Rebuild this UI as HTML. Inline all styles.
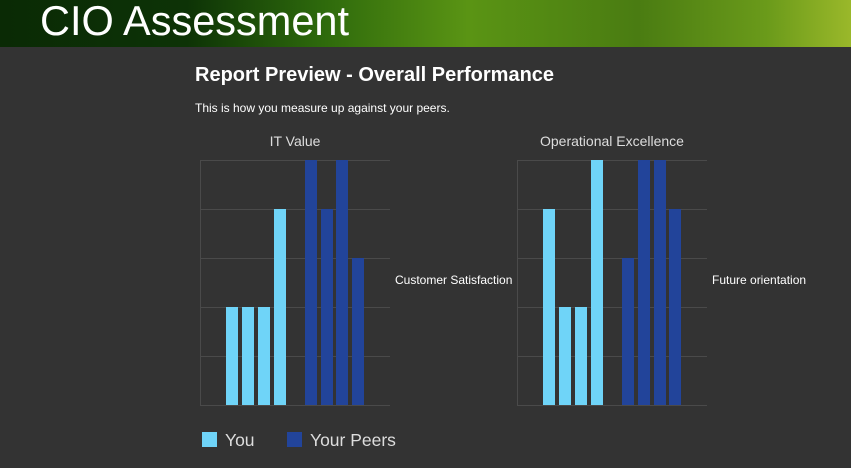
<!DOCTYPE html><html><head><style>
body{margin:0;width:851px;height:468px;background:#333;overflow:hidden;font-family:"Liberation Sans",sans-serif;color:#fff;position:relative}
.hd{position:absolute;left:0;top:0;width:851px;height:47px;background:linear-gradient(90deg,#0a2a05 0%,#0d3306 22%,#2e6a0c 38%,#5a9414 55%,#4a7c12 75%,#6a9a1a 90%,#9ab82a 100%)}
.hd span{position:absolute;left:40px;top:-3px;font-size:41.5px}
.t{position:absolute;left:195px;top:64px;font-size:20px;font-weight:bold}
.s{position:absolute;left:195px;top:101px;font-size:12px}
</style></head><body>
<div class="hd"><span>CIO Assessment</span></div>
<div class="t">Report Preview - Overall Performance</div>
<div class="s">This is how you measure up against your peers.</div>
<svg width="851" height="468" style="position:absolute;left:0;top:0">
<g stroke="#4a4a4a" stroke-width="1">
<line x1="200" y1="160.5" x2="390" y2="160.5"/><line x1="200" y1="209.5" x2="390" y2="209.5"/><line x1="200" y1="258.5" x2="390" y2="258.5"/><line x1="200" y1="307.5" x2="390" y2="307.5"/><line x1="200" y1="356.5" x2="390" y2="356.5"/><line x1="200" y1="405.5" x2="390" y2="405.5"/><line x1="200.5" y1="160" x2="200.5" y2="405"/>
<line x1="517" y1="160.5" x2="707" y2="160.5"/><line x1="517" y1="209.5" x2="707" y2="209.5"/><line x1="517" y1="258.5" x2="707" y2="258.5"/><line x1="517" y1="307.5" x2="707" y2="307.5"/><line x1="517" y1="356.5" x2="707" y2="356.5"/><line x1="517" y1="405.5" x2="707" y2="405.5"/><line x1="517.5" y1="160" x2="517.5" y2="405"/>
</g>
<g fill="#6fd4f8">
<rect x="226" y="307" width="12" height="98"/><rect x="242" y="307" width="12" height="98"/><rect x="258" y="307" width="12" height="98"/><rect x="274" y="209" width="12" height="196"/>
<rect x="543" y="209" width="12" height="196"/><rect x="559" y="307" width="12" height="98"/><rect x="575" y="307" width="12" height="98"/><rect x="591" y="160" width="12" height="245"/>
</g>
<g fill="#22449a">
<rect x="305" y="160" width="12" height="245"/><rect x="321" y="209" width="12" height="196"/><rect x="336" y="160" width="12" height="245"/><rect x="352" y="258" width="12" height="147"/>
<rect x="622" y="258" width="12" height="147"/><rect x="638" y="160" width="12" height="245"/><rect x="654" y="160" width="12" height="245"/><rect x="669" y="209" width="12" height="196"/>
</g>
<rect x="202" y="432" width="15" height="15" fill="#6fd4f8"/><rect x="287" y="432" width="15" height="15" fill="#22449a"/>
<g fill="#fff" font-family="Liberation Sans,sans-serif">
<text x="295" y="146" font-size="14" text-anchor="middle" fill="#ddd">IT Value</text>
<text x="612" y="146" font-size="14" text-anchor="middle" fill="#ddd">Operational Excellence</text>
<text x="395" y="284" font-size="12">Customer Satisfaction</text>
<text x="712" y="284" font-size="12">Future orientation</text>
<text x="225" y="446" font-size="17.5" fill="#ddd">You</text>
<text x="310" y="446" font-size="17.5" fill="#ddd">Your Peers</text>
</g>
</svg>
</body></html>
